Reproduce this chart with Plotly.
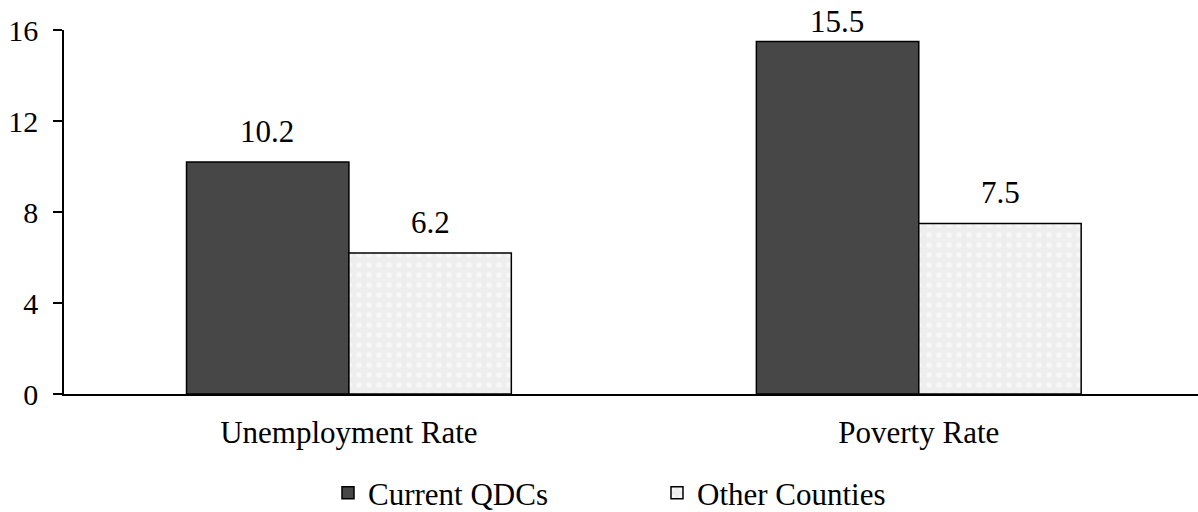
import plotly.graph_objects as go

categories = ["Unemployment Rate", "Poverty Rate"]
current_qdcs = [10.2, 15.5]
other_counties = [6.2, 7.5]
series_names = ["Current QDCs", "Other Counties"]
y_ticks = [0, 4, 8, 12, 16]
y_max = 16

FONT = "Liberation Serif"
FS = 31

W, H = 1198, 512
M_L, M_R, M_T, M_B = 64, 0, 30, 118
PLOT_H = H - M_T - M_B
PX_PER_UNIT = PLOT_H / y_max
BAR_HALF_PX = 81.5  # half bar width in pixels (styling offset for value labels)

fig = go.Figure()
fig.add_trace(go.Bar(
    x=categories, y=current_qdcs, name=series_names[0],
    marker=dict(color="#474747", line=dict(color="black", width=1.5)),
))
fig.add_trace(go.Bar(
    x=categories, y=other_counties, name=series_names[1],
    marker=dict(color="#efefef", line=dict(color="black", width=1.5),
                pattern=dict(shape=".", fgcolor="white", bgcolor="#eeeeee", size=10, solidity=0.25)),
))

for series, shift in ((current_qdcs, -BAR_HALF_PX), (other_counties, BAR_HALF_PX)):
    for cat, v in zip(categories, series):
        room = (y_max - v) * PX_PER_UNIT + M_T - 8
        ys = max(0, min(11, room - 34))
        fig.add_annotation(x=cat, y=v, text=f"{v:.1f}", showarrow=False,
                           xshift=shift, yshift=ys, yanchor="bottom",
                           font=dict(family=FONT, size=FS, color="black"))

fig.update_layout(
    width=W, height=H,
    margin=dict(l=M_L, r=M_R, t=M_T, b=M_B, autoexpand=False),
    paper_bgcolor="white", plot_bgcolor="white",
    barmode="group", bargap=0.43, bargroupgap=0,
    font=dict(family=FONT, size=FS, color="black"),
    showlegend=True,
    legend=dict(orientation="h", x=0.2328, xanchor="left", y=-0.272, yanchor="middle",
                font=dict(family=FONT, size=FS), itemwidth=30, traceorder="normal",
                entrywidth=284, entrywidthmode="pixels"),
    xaxis=dict(range=[-0.5, 1.49], showline=True, linecolor="black", linewidth=1.5,
               ticks="", tickfont=dict(family=FONT, size=FS), showgrid=False,
               ticklabelstandoff=10, automargin=False),
    yaxis=dict(range=[0, y_max], tickvals=y_ticks, showline=True, linecolor="black", linewidth=1.5,
               ticks="outside", ticklen=9, tickcolor="black", tickwidth=1.5,
               showgrid=False, zeroline=False, tickfont=dict(family=FONT, size=30),
               ticklabelstandoff=9, automargin=False),
)

fig.write_html("out.html", config={"displayModeBar": False},
               post_script="document.body.style.margin='0';")
